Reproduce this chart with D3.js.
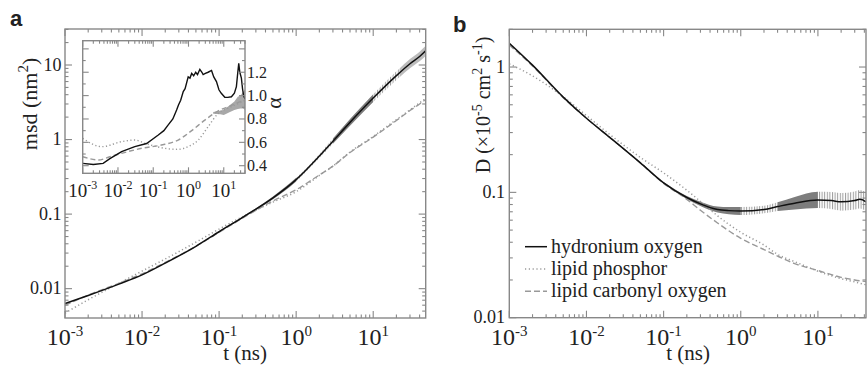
<!DOCTYPE html>
<html>
<head>
<meta charset="utf-8">
<script src="https://cdn.jsdelivr.net/npm/d3@7"></script>
<style>
body{margin:0;background:#fff;}
text{font-family:"Liberation Serif","Times New Roman",serif;fill:#222;}
</style>
</head>
<body>
<script>
// ---- panel a : mean square displacement ----
var tA = [0.001,0.002,0.005,0.01,0.02,0.05,0.1,0.2,0.5,1,2,3,5,10,20,30,40,48];
var msdHydronium = [0.0063,0.0081,0.0115,0.0153,0.022,0.037,0.058,0.09,0.165,0.29,0.6,0.95,1.7,3.6,7.2,10.4,13,15.5];
var msdPhosphor  = [0.0047,0.0071,0.0118,0.0172,0.025,0.042,0.063,0.092,0.145,0.2,0.33,0.44,0.68,1.1,1.85,2.5,3.1,3.55];
var msdCarbonyl  = [0.0060,0.0082,0.0118,0.0158,0.0225,0.037,0.057,0.088,0.15,0.212,0.335,0.44,0.67,1.08,1.8,2.45,3.0,3.45];
// error (log10 half width) of hydronium msd
var errTA = [0.1,0.2,0.5,1,2,3,5,10,20,30,40,48];
var errA  = [0.005,0.009,0.018,0.024,0.026,0.035,0.045,0.052,0.058,0.062,0.065,0.068];
var segA = [[0.1,1,"dark"],[1,3,"stripe"],[3,10,"dark"],[10,22,"stripe"],[22,48,"light"]];

// ---- inset : exponent alpha ----
var tIh = [0.001,0.002,0.0038,0.0059,0.0127,0.03,0.065,0.139,0.2,0.266,0.36,0.46,0.52,0.6,0.71,0.8,0.98,1.1,1.23,1.4,1.6,1.8,2.1,2.4,2.6,3.0,3.6,4.5,5.2,6.2,7.3,8.5,10.7,13,16.5,20,22.8,25,26.6,28.5,31.6,34,36.5,40];
var aHydronium = [0.42,0.41,0.42,0.46,0.52,0.563,0.59,0.663,0.70,0.749,0.80,0.877,0.92,0.96,1.034,1.06,1.16,1.15,1.19,1.17,1.2,1.18,1.225,1.2,1.18,1.19,1.2,1.215,1.16,1.12,1.05,1.02,0.986,0.985,0.99,1.02,1.077,1.2,1.277,1.2,1.15,1.06,1.0,0.97];
var tIp = [0.001,0.0035,0.0127,0.03,0.058,0.21,0.51,0.98,1.9,3.6,7,15,25,40];
var aPhosphor = [0.634,0.563,0.606,0.62,0.592,0.549,0.54,0.563,0.62,0.734,0.849,0.9,0.93,0.96];
var tIc = [0.001,0.0028,0.0059,0.0127,0.047,0.17,0.51,1.23,2.9,7,15,25,40];
var aCarbonyl = [0.477,0.449,0.477,0.506,0.549,0.577,0.62,0.7,0.79,0.87,0.91,0.94,0.96];
var tIband = [5,8,10,15,20,25,30,35,40];
var bandLo = [0.845,0.84,0.835,0.86,0.877,0.885,0.89,0.89,0.88];
var bandHi = [0.86,0.87,0.88,0.92,0.95,0.99,1.0,1.03,1.05];

// ---- panel b : diffusion coefficient ----
var tB = [0.001,0.002,0.005,0.01,0.02,0.05,0.1,0.2,0.3,0.5,0.7,1,2,3,5,10,15,20,30,35,42];
var dHydronium = [1.55,1.035,0.575,0.39,0.275,0.172,0.119,0.091,0.081,0.073,0.0715,0.071,0.073,0.077,0.082,0.087,0.086,0.084,0.086,0.088,0.084];
var tBp = [0.001,0.002,0.005,0.01,0.02,0.05,0.1,0.2,0.36,0.5,1,2,3,5,7,10,20,30,42];
var dPhosphor = [1.06,0.85,0.58,0.41,0.29,0.19,0.143,0.104,0.077,0.065,0.048,0.038,0.032,0.028,0.0257,0.0235,0.0205,0.0193,0.0183];
var tBc = [0.001,0.002,0.005,0.01,0.02,0.05,0.1,0.2,0.3,0.5,1,2,3,5,10,20,30,42];
var dCarbonyl = [1.5,1.02,0.57,0.39,0.275,0.172,0.118,0.088,0.072,0.057,0.043,0.035,0.031,0.027,0.0238,0.021,0.0200,0.0194];
var errTB = [0.1,0.2,0.3,0.5,0.7,1,2,3,5,10,15,20,30,35,42];
var errB  = [0.007,0.012,0.017,0.023,0.028,0.032,0.03,0.035,0.05,0.065,0.068,0.07,0.072,0.074,0.075];
var segB = [[0.08,1,"dark"],[1,3,"stripe"],[3,10,"dark"],[10,42,"stripe"]];

var legendNames = ["hydronium oxygen","lipid phosphor","lipid carbonyl oxygen"];

var w = 867, h = 365;
var svg = d3.select("body").append("svg").attr("width",w).attr("height",h)
	.attr("font-family","Liberation Serif, Times New Roman, serif");
var defs = svg.append("defs");
defs.append("pattern").attr("id","stripes").attr("patternUnits","userSpaceOnUse")
	.attr("width",2.6).attr("height",10)
	.append("rect").attr("width",1).attr("height",10).attr("fill","#9c9c9c");
var fills = {dark:"#7d7d7d", stripe:"url(#stripes)", light:"#bcbcbc"};
var clipN = 0;

var styles = {
	hyd: {stroke:"#111", width:1.5, dash:null},
	pho: {stroke:"#999", width:1.5, dash:"1.2,2.6"},
	car: {stroke:"#999", width:1.4, dash:"6,3"}
};

function isPow10(v){ var l = Math.log10(v); return Math.abs(l - Math.round(l)) < 1e-6; }

function clipRect(x0,y0,x1,y1){
	var id = "c"+(clipN++);
	defs.append("clipPath").attr("id",id).append("rect")
		.attr("x",x0).attr("y",y0).attr("width",x1-x0).attr("height",y1-y0);
	return "url(#"+id+")";
}

function drawLine(g, x, y, ts, vs, st, curve){
	var line = d3.line().x(function(d){return x(d[0]);}).y(function(d){return y(d[1]);}).curve(curve || d3.curveMonotoneX);
	g.append("path").datum(d3.zip(ts,vs)).attr("d",line)
		.attr("fill","none").attr("stroke",st.stroke).attr("stroke-width",st.width)
		.attr("stroke-dasharray",st.dash);
}

function drawBand(g, x, y, ts, vs, errT, err, segs){
	var lookup = {};
	ts.forEach(function(t,i){ lookup[t] = vs[i]; });
	var data = errT.map(function(t,i){ return [t, lookup[t], err[i]]; });
	var area = d3.area().x(function(d){return x(d[0]);})
		.y0(function(d){return y(d[1]*Math.pow(10,-d[2]));})
		.y1(function(d){return y(d[1]*Math.pow(10,d[2]));})
		.curve(d3.curveMonotoneX);
	var yr = y.range();
	segs.forEach(function(s){
		g.append("path").datum(data).attr("d",area).attr("fill",fills[s[2]])
			.attr("clip-path",clipRect(x(s[0]),yr[1],x(s[1]),yr[0]));
	});
}

function frameTicks(g, x, y, yLog, yMajor, yMinor, big, small){
	var xr = x.range(), yr = y.range();
	var x0 = xr[0], x1 = xr[1], y0 = yr[1], y1 = yr[0];
	var tk = g.append("g").attr("stroke","#888").attr("stroke-width",1.1);
	x.ticks().forEach(function(t){
		var L = isPow10(t) ? big : small, px = x(t);
		if (px < x0-0.5 || px > x1+0.5) return;
		tk.append("line").attr("x1",px).attr("x2",px).attr("y1",y1).attr("y2",y1-L);
		tk.append("line").attr("x1",px).attr("x2",px).attr("y1",y0).attr("y2",y0+L);
	});
	var ymaj, ymin;
	if (yLog){
		var yt = y.ticks();
		ymaj = yt.filter(isPow10);
		ymin = yt.filter(function(t){return !isPow10(t);});
	} else { ymaj = yMajor; ymin = yMinor; }
	[[ymaj,big],[ymin,small]].forEach(function(p){
		p[0].forEach(function(t){
			var py = y(t);
			if (py < y0-0.5 || py > y1+0.5) return;
			tk.append("line").attr("x1",x0).attr("x2",x0+p[1]).attr("y1",py).attr("y2",py);
			tk.append("line").attr("x1",x1).attr("x2",x1-p[1]).attr("y1",py).attr("y2",py);
		});
	});
	g.append("rect").attr("x",x0).attr("y",y0).attr("width",x1-x0).attr("height",y1-y0)
		.attr("fill","none").attr("stroke","#888").attr("stroke-width",1.4);
}

function powLabels(g, x, exps, yBase, size, supSize, supDy){
	exps.forEach(function(e){
		var t = g.append("text").attr("x",x(Math.pow(10,e))).attr("y",yBase)
			.attr("text-anchor","middle").attr("font-size",size);
		t.append("tspan").text("10");
		t.append("tspan").attr("dy",supDy).attr("font-size",supSize).text(String(e));
	});
}

function yLabels(g, y, vals, names, xPos, size){
	vals.forEach(function(v,i){
		g.append("text").attr("x",xPos).attr("y",y(v)).attr("dy","0.32em")
			.attr("text-anchor","end").attr("font-size",size).text(names[i]);
	});
}

// ================= panel a =================
var xA = d3.scaleLog().domain([1e-3,48]).range([65,425.7]);
var yA = d3.scaleLog().domain([0.00404,30.4]).range([318,29]);
var gA = svg.append("g");
var plotA = gA.append("g").attr("clip-path",clipRect(65,29,425.7,318));
drawBand(plotA, xA, yA, tA, msdHydronium, errTA, errA, segA);
drawLine(plotA, xA, yA, tA, msdPhosphor, styles.pho);
drawLine(plotA, xA, yA, tA, msdCarbonyl, styles.car);
drawLine(plotA, xA, yA, tA, msdHydronium, styles.hyd);
frameTicks(gA, xA, yA, true, null, null, 7, 3.5);
yLabels(gA, yA, [0.01,0.1,1,10], ["0.01","0.1","1","10"], 61.5, 18);
powLabels(gA, xA, [-3,-2,-1,0,1], 345, 24, 15, -9);
gA.append("text").attr("x",245).attr("y",360).attr("text-anchor","middle").attr("font-size",21).text("t (ns)");
var lA = gA.append("text").attr("transform","translate(37,104) rotate(-90)")
	.attr("text-anchor","middle").attr("font-size",22);
lA.append("tspan").text("msd (nm");
lA.append("tspan").attr("dy",-9).attr("font-size",15).text("2");
lA.append("tspan").attr("dy",9).text(")");
svg.append("text").attr("x",10).attr("y",26).attr("font-weight","bold").attr("font-size",22)
	.style("font-family","Liberation Sans, Arial, sans-serif").text("a");

// ---- inset ----
var xI = d3.scaleLog().domain([1e-3,40]).range([82.7,245]);
var yI = d3.scaleLinear().domain([0.335,1.47]).range([173.3,40.7]);
var gI = svg.append("g");
gI.append("rect").attr("x",82.7).attr("y",40.7).attr("width",245-82.7).attr("height",173.3-40.7).attr("fill","#fff");
var plotI = gI.append("g").attr("clip-path",clipRect(82.7,40.7,245,173.3));
plotI.append("path").datum(d3.zip(tIband,bandLo,bandHi))
	.attr("d",d3.area().x(function(d){return xI(d[0]);}).y0(function(d){return yI(d[1]);}).y1(function(d){return yI(d[2]);}))
	.attr("fill","#a8a8a8");
drawLine(plotI, xI, yI, tIp, aPhosphor, {stroke:"#999",width:1.4,dash:"1.2,2.4"});
drawLine(plotI, xI, yI, tIc, aCarbonyl, {stroke:"#999",width:1.4,dash:"5,3"});
drawLine(plotI, xI, yI, tIh, aHydronium, {stroke:"#111",width:1.4,dash:null}, d3.curveLinear);
frameTicks(gI, xI, yI, false, [0.4,0.6,0.8,1.0,1.2,1.4], [0.5,0.7,0.9,1.1,1.3], 6, 3);
powLabels(gI, xI, [-3,-2,-1,0,1], 197, 19, 12, -8);
[0.4,0.6,0.8,1.0,1.2].forEach(function(v){
	gI.append("text").attr("x",247).attr("y",yI(v)).attr("dy","0.34em").attr("font-size",16).text(v.toFixed(1));
});
gI.append("text").attr("transform","translate(281,103) rotate(-90)").attr("text-anchor","middle")
	.attr("font-size",22).text("\u03b1");

// ================= panel b =================
var xB = d3.scaleLog().domain([1e-3,42]).range([509.3,866]);
var yB = d3.scaleLog().domain([0.01,2]).range([317.7,29.3]);
var gB = svg.append("g");
var plotB = gB.append("g").attr("clip-path",clipRect(509.3,29.3,866,317.7));
drawBand(plotB, xB, yB, tB, dHydronium, errTB, errB, segB);
drawLine(plotB, xB, yB, tBp, dPhosphor, styles.pho);
drawLine(plotB, xB, yB, tBc, dCarbonyl, styles.car);
drawLine(plotB, xB, yB, tB, dHydronium, styles.hyd);
frameTicks(gB, xB, yB, true, null, null, 7, 3.5);
yLabels(gB, yB, [0.01,0.1,1], ["0.01","0.1","1"], 505, 18);
powLabels(gB, xB, [-3,-2,-1,0,1], 345, 24, 15, -9);
gB.append("text").attr("x",688).attr("y",360).attr("text-anchor","middle").attr("font-size",21).text("t (ns)");
var lB = gB.append("text").attr("transform","translate(490,105) rotate(-90)")
	.attr("text-anchor","middle").attr("font-size",20);
lB.append("tspan").text("D (\u00d710");
lB.append("tspan").attr("dy",-8).attr("font-size",14).text("-5");
lB.append("tspan").attr("dy",8).text(" cm");
lB.append("tspan").attr("dy",-8).attr("font-size",14).text("2");
lB.append("tspan").attr("dy",8).text(" s");
lB.append("tspan").attr("dy",-8).attr("font-size",14).text("-1");
lB.append("tspan").attr("dy",8).text(")");
svg.append("text").attr("x",453).attr("y",32).attr("font-weight","bold").attr("font-size",22)
	.style("font-family","Liberation Sans, Arial, sans-serif").text("b");

// legend
var legStyles = [styles.hyd, styles.pho, styles.car];
legendNames.forEach(function(n,i){
	var yy = 246.7 + i*22.3;
	gB.append("line").attr("x1",525).attr("x2",547).attr("y1",yy).attr("y2",yy)
		.attr("stroke",legStyles[i].stroke).attr("stroke-width",legStyles[i].width)
		.attr("stroke-dasharray",legStyles[i].dash);
	gB.append("text").attr("x",551).attr("y",yy+6).attr("font-size",20).text(n);
});
</script>
</body>
</html>
